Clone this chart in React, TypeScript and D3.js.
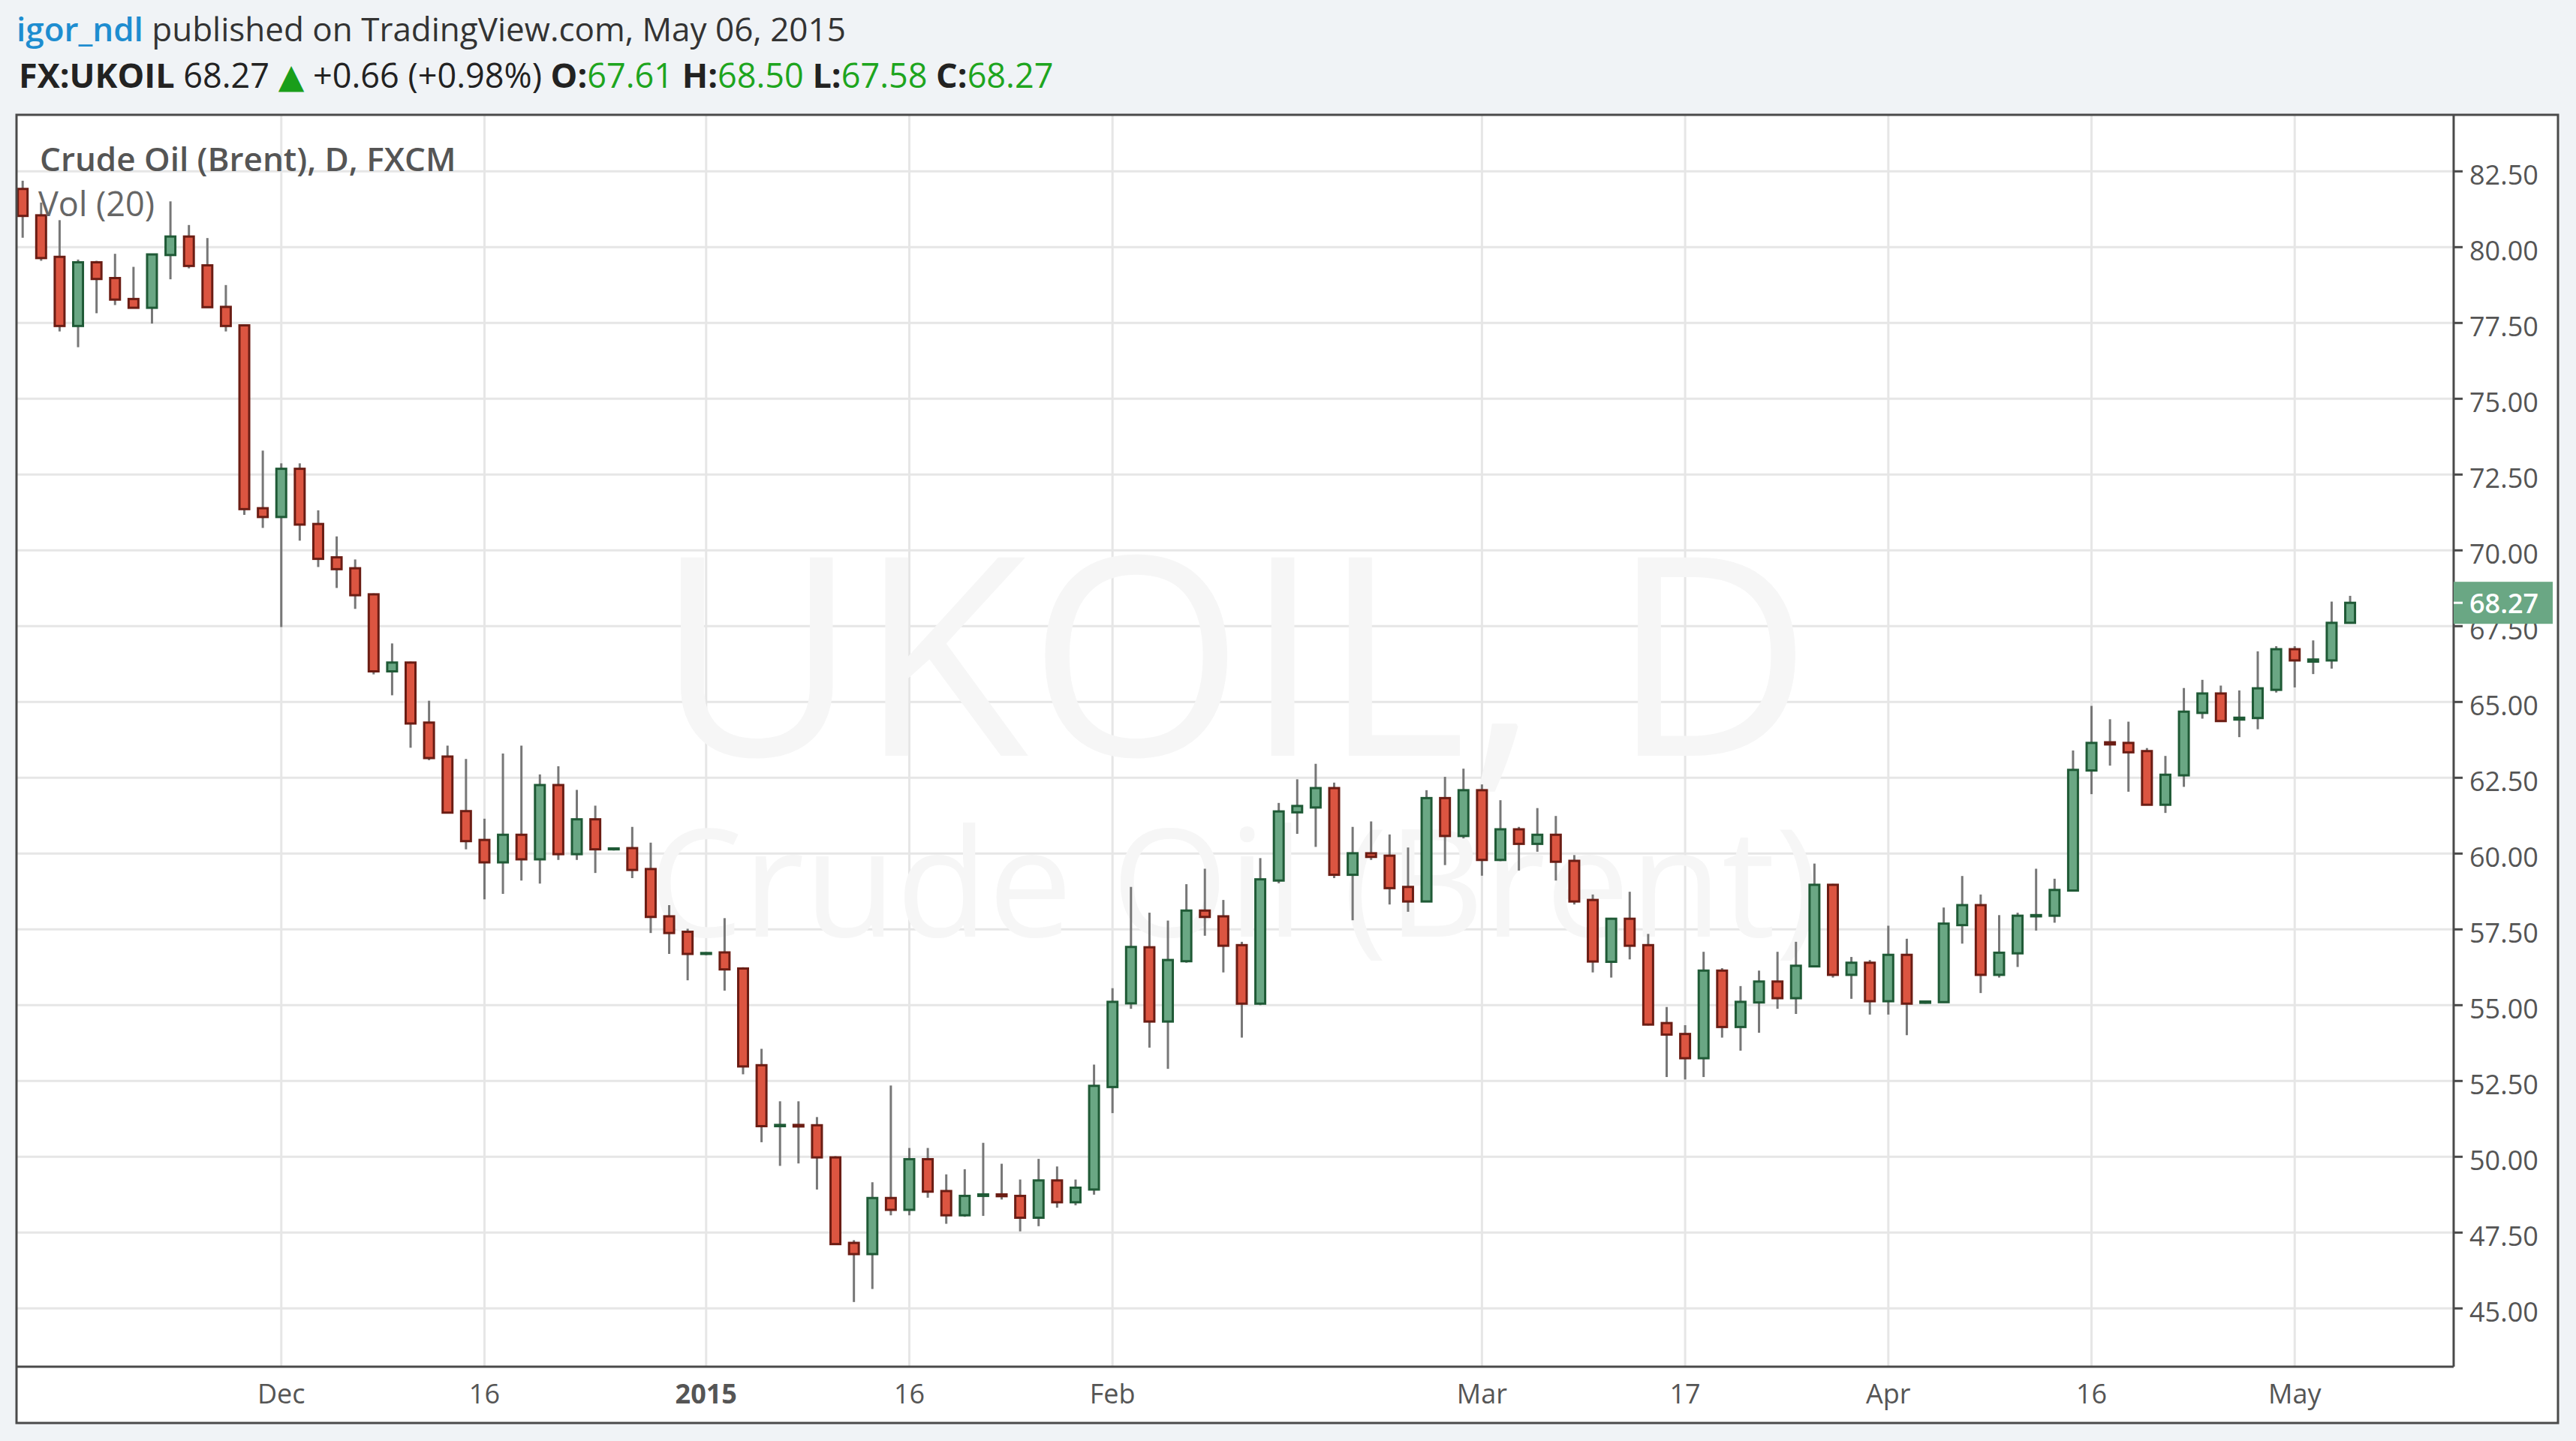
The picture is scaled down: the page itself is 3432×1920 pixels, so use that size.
import React from "react";
import * as d3 from "d3";

// Daily bars, weekdays only, 11 Nov 2014 -> 6 May 2015
const fmt = d3.timeFormat("%Y-%m-%d");
const days = d3.timeDay
  .range(new Date(2014, 10, 11), new Date(2015, 4, 7))
  .filter(d => d.getDay() !== 0 && d.getDay() !== 6)
  .map(fmt);

const opens = [
  81.92, 81.05, 79.68, 77.40, 79.50, 78.98, 78.29, 78.00, 79.74, 80.35,
  79.40, 78.03, 77.42, 71.39, 71.10, 72.69, 70.87, 69.77, 69.41, 68.55,
  66.01, 66.30, 64.32, 63.20, 61.40, 60.45, 59.71, 60.62, 59.81, 62.26,
  59.98, 61.13, 60.14, 60.18, 59.49, 57.93, 57.42, 56.69, 56.74, 56.21,
  53.02, 51.01, 51.05, 51.04, 49.98, 47.16, 46.79, 48.64, 48.25, 49.92,
  48.87, 48.07, 48.71, 48.76, 48.71, 47.99, 49.22, 48.50, 48.92, 52.30,
  55.06, 56.91, 54.46, 56.45, 58.12, 57.93, 56.98, 55.05, 59.11, 61.36,
  61.52, 62.16, 59.30, 60.01, 59.93, 58.90, 58.42, 61.83, 60.58, 62.09,
  59.79, 60.80, 60.32, 60.62, 59.76, 58.47, 56.43, 57.85, 56.98, 54.41,
  54.05, 53.25, 56.14, 54.28, 55.09, 55.78, 55.23, 56.28, 58.97, 56.00,
  56.40, 55.13, 56.66, 55.08, 55.10, 57.64, 58.30, 56.00, 56.71, 57.93,
  57.95, 58.78, 62.74, 63.67, 63.65, 63.38, 61.61, 62.58, 64.64, 65.28,
  64.42, 64.47, 65.40, 66.74, 66.33, 66.37, 67.61,
];
const highs = [
  82.19, 81.47, 80.89, 79.59, 79.55, 79.78, 79.35, 79.78, 81.51, 80.73,
  80.30, 78.75, 77.45, 73.29, 72.87, 72.87, 71.32, 70.46, 69.70, 68.58,
  66.93, 66.33, 65.04, 63.56, 63.12, 61.15, 63.30, 63.56, 62.61, 62.88,
  62.10, 61.58, 60.20, 60.88, 60.36, 58.30, 57.52, 56.75, 57.87, 56.25,
  53.56, 51.83, 51.83, 51.31, 50.02, 47.25, 49.16, 52.35, 50.29, 50.29,
  49.42, 49.59, 50.46, 49.77, 49.25, 49.93, 49.68, 49.25, 53.04, 55.56,
  58.90, 58.05, 57.79, 58.99, 59.50, 58.47, 57.09, 59.85, 61.67, 62.45,
  62.96, 62.34, 60.88, 61.06, 60.63, 60.20, 62.09, 62.53, 62.80, 62.28,
  61.76, 60.88, 61.50, 61.24, 59.95, 58.65, 57.88, 58.74, 57.35, 54.94,
  54.34, 56.76, 56.22, 55.63, 56.14, 56.76, 57.09, 59.67, 59.00, 56.59,
  56.49, 57.62, 57.19, 55.15, 58.22, 59.26, 58.65, 57.97, 58.05, 59.50,
  59.17, 63.40, 64.87, 64.43, 64.35, 63.48, 63.22, 65.46, 65.73, 65.54,
  65.38, 66.67, 66.84, 66.84, 67.03, 68.31, 68.50,
];
const lows = [
  80.31, 79.55, 77.22, 76.70, 77.82, 78.09, 78.00, 77.48, 78.94, 79.30,
  78.00, 77.22, 71.17, 70.74, 67.47, 70.32, 69.45, 68.76, 68.07, 65.91,
  65.22, 63.49, 63.08, 61.33, 60.14, 58.49, 58.67, 59.11, 59.01, 59.79,
  59.79, 59.36, 60.10, 59.19, 57.38, 56.69, 55.82, 56.65, 55.48, 52.72,
  50.48, 49.70, 49.78, 48.92, 47.10, 45.21, 45.64, 48.07, 48.07, 48.65,
  47.79, 48.02, 48.05, 48.59, 47.54, 47.71, 48.32, 48.40, 48.75, 51.44,
  54.88, 53.60, 52.90, 56.40, 57.29, 56.08, 53.93, 55.00, 59.02, 60.65,
  60.22, 59.19, 57.80, 59.79, 58.32, 58.08, 58.40, 59.62, 60.50, 59.27,
  59.75, 59.44, 60.06, 59.11, 58.32, 56.08, 55.91, 56.51, 54.33, 52.63,
  52.55, 52.63, 53.93, 53.50, 54.09, 54.88, 54.71, 56.25, 55.91, 55.21,
  54.69, 54.69, 54.01, 55.05, 55.08, 57.03, 55.40, 55.91, 56.26, 57.46,
  57.72, 58.75, 61.96, 62.90, 62.04, 61.61, 61.34, 62.20, 64.45, 64.37,
  63.84, 64.10, 65.31, 65.48, 65.92, 66.10, 67.58,
];
const closes = [
  81.03, 79.64, 77.40, 79.50, 78.95, 78.27, 78.00, 79.76, 80.35, 79.38,
  78.02, 77.40, 71.36, 71.10, 72.69, 70.85, 69.72, 69.38, 68.52, 66.01,
  66.30, 64.29, 63.15, 61.35, 60.41, 59.71, 60.62, 59.81, 62.26, 59.98,
  61.13, 60.14, 60.17, 59.46, 57.91, 57.38, 56.69, 56.72, 56.18, 52.98,
  51.01, 51.05, 51.00, 49.98, 47.12, 46.79, 48.64, 48.25, 49.92, 48.85,
  48.07, 48.71, 48.76, 48.70, 47.99, 49.22, 48.50, 48.98, 52.34, 55.11,
  56.92, 54.46, 56.49, 58.12, 57.91, 56.96, 55.05, 59.15, 61.39, 61.57,
  62.16, 59.30, 60.01, 59.89, 58.86, 58.42, 61.83, 60.58, 62.09, 59.79,
  60.80, 60.32, 60.62, 59.73, 58.42, 56.44, 57.85, 56.96, 54.36, 54.03,
  53.25, 56.14, 54.28, 55.11, 55.78, 55.23, 56.30, 58.97, 56.00, 56.40,
  55.13, 56.66, 55.05, 55.12, 57.69, 58.30, 56.00, 56.73, 57.95, 57.97,
  58.80, 62.76, 63.65, 63.60, 63.34, 61.61, 62.60, 64.68, 65.28, 64.37,
  64.48, 65.45, 66.74, 66.37, 66.40, 67.61, 68.27,
];

const priceTicks = [45, 47.5, 50, 52.5, 55, 57.5, 60, 62.5, 65, 67.5, 70, 72.5, 75, 77.5, 80, 82.5];
const timeTickDates = ["2014-12-01", "2014-12-16", "2015-01-01", "2015-01-16", "2015-02-02", "2015-03-02", "2015-03-17", "2015-04-01", "2015-04-16", "2015-05-01"];
const timeTickLabels = ["Dec", "16", "2015", "16", "Feb", "Mar", "17", "Apr", "16", "May"];

const lastPrice = 68.27;

const W = 3432;
const H = 1920;
const frame = { left: 22, top: 153, right: 3408, bottom: 1896 };
const plotRight = 3269;
const plotBottom = 1821;

const UP_FILL = "#6aa784";
const UP_LINE = "#1f5a36";
const DN_FILL = "#dc5541";
const DN_LINE = "#6b1d14";
const font = "'Open Sans', 'DejaVu Sans', sans-serif";

export default function App() {
  const x = d3.scalePoint<string>().domain(days).range([30.2, 30.2 + 24.61 * (days.length - 1)]);
  const y = d3.scaleLinear().domain([45, 82.5]).range([1743.3, 228.3]);

  const bodyW = 13;

  return (
    <svg width={W} height={H} style={{ position: "absolute", left: 0, top: 0, display: "block" }} fontFamily={font}>
      <rect x={0} y={0} width={W} height={H} fill="#f0f3f6" />

      {/* Header */}
      <text x={22} y={55} fontSize={44} fill="#333">
        <tspan fill="#1e8dd0" fontWeight={600}>igor_ndl</tspan>
        <tspan> published on TradingView.com, May 06, 2015</tspan>
      </text>
      <text x={25} y={117} fontSize={45} fill="#222">
        <tspan fontWeight={700}>FX:UKOIL</tspan>
        <tspan> 68.27 </tspan>
        <tspan fill="#1a9e1a">▲</tspan>
        <tspan> +0.66 (+0.98%) </tspan>
        <tspan fontWeight={700}>O:</tspan><tspan fill="#1ea51e">67.61</tspan>
        <tspan fontWeight={700}> H:</tspan><tspan fill="#1ea51e">68.50</tspan>
        <tspan fontWeight={700}> L:</tspan><tspan fill="#1ea51e">67.58</tspan>
        <tspan fontWeight={700}> C:</tspan><tspan fill="#1ea51e">68.27</tspan>
      </text>

      {/* Frame */}
      <rect x={frame.left} y={frame.top} width={frame.right - frame.left} height={frame.bottom - frame.top} fill="#fff" />

      {/* Grid */}
      {priceTicks.map(p => (
        <line key={"g" + p} x1={frame.left} x2={plotRight} y1={y(p)} y2={y(p)} stroke="#e6e6e6" strokeWidth={3} />
      ))}
      {timeTickDates.map(d => (
        <line key={"v" + d} x1={x(d)} x2={x(d)} y1={frame.top} y2={plotBottom} stroke="#e6e6e6" strokeWidth={3} />
      ))}

      {/* Watermark */}
      <text x={1644} y={1007} fontSize={370} fill="#f6f6f6" textAnchor="middle">UKOIL, D</text>
      <text x={1644} y={1248} fontSize={200} fill="#f6f6f6" textAnchor="middle">Crude Oil (Brent)</text>

      {/* Candles */}
      {days.map((d, i) => {
        const up = closes[i] >= opens[i];
        const cx = x(d) ?? 0;
        const top = y(Math.max(opens[i], closes[i]));
        const bot = y(Math.min(opens[i], closes[i]));
        return (
          <g key={d}>
            <line x1={cx} x2={cx} y1={y(highs[i])} y2={y(lows[i])} stroke="#777" strokeWidth={3} />
            <rect
              x={cx - bodyW / 2}
              y={top}
              width={bodyW}
              height={Math.max(bot - top, 1)}
              fill={up ? UP_FILL : DN_FILL}
              stroke={up ? UP_LINE : DN_LINE}
              strokeWidth={3}
            />
          </g>
        );
      })}

      {/* Legend */}
      <text x={53} y={228} fontSize={44} fontWeight={600} fill="#555">Crude Oil (Brent), D, FXCM</text>
      <text x={51} y={288} fontSize={45} fill="#666">Vol (20)</text>

      {/* Axes */}
      <line x1={plotRight} x2={plotRight} y1={frame.top} y2={plotBottom} stroke="#4a4a4a" strokeWidth={3} />
      <line x1={frame.left} x2={plotRight} y1={plotBottom} y2={plotBottom} stroke="#4a4a4a" strokeWidth={3} />
      {priceTicks.map(p => (
        <g key={"t" + p}>
          <line x1={plotRight} x2={plotRight + 12} y1={y(p)} y2={y(p)} stroke="#4a4a4a" strokeWidth={3} />
          <text x={plotRight + 21} y={y(p) + 18} fontSize={36} fill="#555">{p.toFixed(2)}</text>
        </g>
      ))}
      {timeTickDates.map((d, i) => (
        <text key={"l" + d} x={x(d)} y={1870} fontSize={36} fill="#555" textAnchor="middle" fontWeight={timeTickLabels[i] === "2015" ? 700 : 400}>
          {timeTickLabels[i]}
        </text>
      ))}

      {/* Last price marker */}
      <rect x={plotRight} y={y(lastPrice) - 28} width={132} height={56} fill={UP_FILL} />
      <line x1={plotRight} x2={plotRight + 12} y1={y(lastPrice)} y2={y(lastPrice)} stroke="#fff" strokeWidth={3} />
      <text x={plotRight + 21} y={y(lastPrice) + 14} fontSize={36} fontWeight={600} fill="#fff">{lastPrice.toFixed(2)}</text>

      <rect x={frame.left} y={frame.top} width={frame.right - frame.left} height={frame.bottom - frame.top} fill="none" stroke="#4a4a4a" strokeWidth={3} />
    </svg>
  );
}
